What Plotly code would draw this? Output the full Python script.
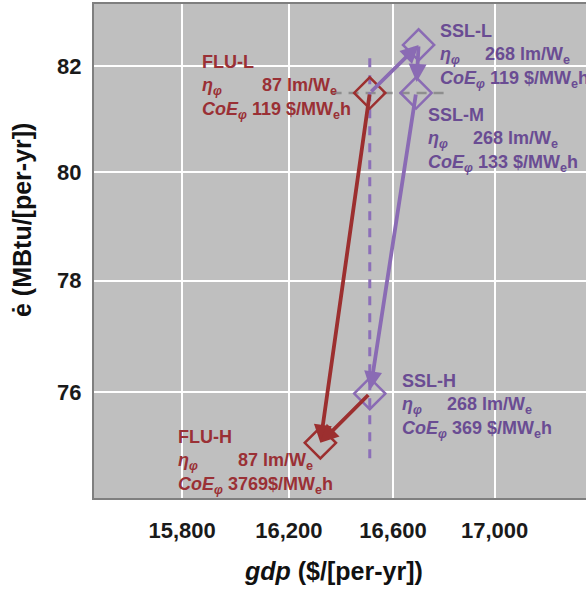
import math
import plotly.graph_objects as go

# ---------------- data ----------------
cases = ["FLU-L", "SSL-L", "SSL-M", "SSL-H", "FLU-H"]
gdp = [16510, 16700, 16690, 16510, 16320]          # $/[per-yr]
e_dot = [81.49, 82.41, 81.49, 75.97, 75.10]        # MBtu/[per-yr]
efficacy = [87, 268, 268, 268, 87]                 # lm/We
coe = [119, 119, 133, 369, 3769]                   # $/MWeh
families = ["FLU", "SSL", "SSL", "SSL", "FLU"]

# arrows (from index, to index)
arrows_red = [(0, 4), (3, 4)]
arrows_purple = [(0, 1), (1, 2), (2, 3)]

x_ticks = [15800, 16200, 16600, 17000]
x_ticklabels = ["15,800", "16,200", "16,600", "17,000"]
y_ticks = [76, 78, 80, 82]
y_ticklabels = ["76", "78", "80", "82"]

x_range = [15477, 17368]
y_range = [74.14, 83.20]

# reference dashed lines
h_ref_x = [16363, 16807]
h_ref_y = [81.49, 81.49]
v_ref_x = [16510, 16510]
v_ref_y = [74.83, 82.24]

# ---------------- styles ----------------
RED = "#9c2f2f"
RED_TXT = "#9a3035"
PURPLE = "#8a6bb4"
PURPLE_TXT = "#6a4c93"
col = {"FLU": RED, "SSL": PURPLE}
txtcol = {"FLU": RED_TXT, "SSL": PURPLE_TXT}
FONT = "Liberation Sans"

W, H = 586, 589
ML, MR, MT, MB = 94, 0, 4, 91
PW, PH = W - ML - MR, H - MT - MB


def px2paper(px, py):
    return (px - ML) / PW, (H - MB - py) / PH


fig = go.Figure()

# reference lines
fig.add_trace(go.Scatter(x=h_ref_x, y=h_ref_y, mode="lines",
                         line=dict(color="#8e8e8e", width=2.5, dash="10px,7px"),
                         hoverinfo="skip", showlegend=False))
fig.add_trace(go.Scatter(x=v_ref_x, y=v_ref_y, mode="lines",
                         line=dict(color="#8c6fb8", width=3, dash="9px,8px"),
                         hoverinfo="skip", showlegend=False))

# diamonds
for i, c in enumerate(cases):
    fig.add_trace(go.Scatter(
        x=[gdp[i]], y=[e_dot[i]], mode="markers",
        marker=dict(symbol="diamond-open", size=24,
                    line=dict(color=col[families[i]], width=2.5),
                    color=col[families[i]]),
        showlegend=False, hoverinfo="skip"))

annotations = []


def add_arrow(i, j, color, standoff=0):
    annotations.append(dict(
        x=math.log10(gdp[j]), y=math.log10(e_dot[j]),
        ax=math.log10(gdp[i]), ay=math.log10(e_dot[i]),
        xref="x", yref="y", axref="x", ayref="y",
        text="", showarrow=True, arrowhead=2, arrowsize=0.95,
        arrowwidth=3.8, arrowcolor=color, standoff=standoff))


for i, j in arrows_red:
    add_arrow(i, j, RED)
add_arrow(0, 1, PURPLE)
add_arrow(1, 2, PURPLE, standoff=11)
add_arrow(2, 3, PURPLE, standoff=4)

# label blocks (top-left pixel positions)
label_pos = {
    "FLU-L": (200, 50),
    "SSL-L": (438, 19),
    "SSL-M": (426, 103),
    "SSL-H": (400, 369),
    "FLU-H": (176, 425),
}
NB = "\u00a0"
for i, c in enumerate(cases):
    eff = str(efficacy[i])
    pad = NB * (8 if len(eff) == 2 else 5)
    cv = str(coe[i])
    sep = "" if len(cv) == 4 else " "
    txt = (f"<b>{c}</b><br>"
           f"<b><i>η<sub>φ</sub></i>{pad}{eff} lm/W<sub>e</sub></b><br>"
           f"<b><i>CoE<sub>φ</sub></i> {cv}{sep}$/MW<sub>e</sub>h</b>")
    px_, py_ = label_pos[c]
    xp, yp = px2paper(px_, py_)
    annotations.append(dict(
        x=xp, y=yp, xref="paper", yref="paper", xanchor="left", yanchor="top",
        align="left", showarrow=False, text=txt,
        font=dict(family=FONT, size=18, color=txtcol[families[i]])))

# axis titles
xp, yp = px2paper(333, 571)
annotations.append(dict(x=xp, y=yp, xref="paper", yref="paper",
                        xanchor="center", yanchor="middle", showarrow=False,
                        text="<b><i>gdp</i> ($/[per-yr])</b>",
                        font=dict(family=FONT, size=25, color="#111111")))
xp, yp = px2paper(22, 220)
annotations.append(dict(x=xp, y=yp, xref="paper", yref="paper",
                        xanchor="center", yanchor="middle", showarrow=False,
                        textangle=-90,
                        text="<b>ė (MBtu/[per-yr])</b>",
                        font=dict(family=FONT, size=25, color="#111111")))

fig.update_layout(
    width=W, height=H, autosize=False,
    margin=dict(l=ML, r=MR, t=MT, b=MB, pad=0),
    paper_bgcolor="white", plot_bgcolor="#bfbfbf",
    showlegend=False,
    annotations=annotations,
    xaxis=dict(type="log",
               range=[math.log10(x_range[0]), math.log10(x_range[1])],
               tickvals=x_ticks, ticktext=x_ticklabels,
               showgrid=True, gridcolor="white", gridwidth=1.5,
               zeroline=False, showline=True, mirror=True,
               linecolor="#7f7f7f", linewidth=2,
               ticks="", ticklabelstandoff=12,
               tickfont=dict(family=FONT, size=22, color="#1a1a1a", weight="bold")),
    yaxis=dict(type="log",
               range=[math.log10(y_range[0]), math.log10(y_range[1])],
               tickvals=y_ticks, ticktext=y_ticklabels,
               showgrid=True, gridcolor="white", gridwidth=1.5,
               zeroline=False, showline=True, mirror=False,
               linecolor="#7f7f7f", linewidth=2,
               ticks="", ticklabelstandoff=6,
               tickfont=dict(family=FONT, size=22, color="#1a1a1a", weight="bold")),
)

fig.write_html("out.html",
               config={"displayModeBar": False},
               post_script="document.body.style.margin='0';"
                           "document.body.style.overflow='hidden';"
                           "document.documentElement.style.overflow='hidden';")
